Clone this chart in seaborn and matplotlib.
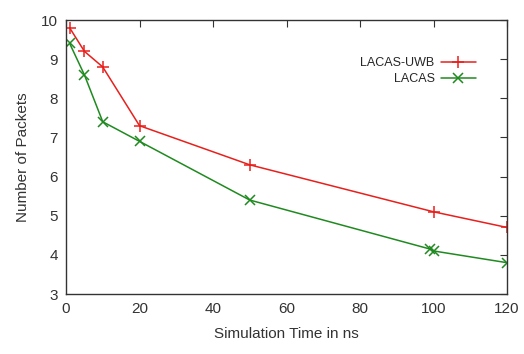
import matplotlib
matplotlib.use("Agg")
import matplotlib.pyplot as plt
import seaborn as sns
import pandas as pd

uwb_x = [1, 5, 10, 20, 50, 100, 120]
uwb_y = [9.8, 9.2, 8.8, 7.3, 6.3, 5.1, 4.7]
lacas_x = [1, 5, 10, 20, 50, 99, 100, 120]
lacas_y = [9.4, 8.6, 7.4, 6.9, 5.4, 4.15, 4.1, 3.8]
x_ticks = [0, 20, 40, 60, 80, 100, 120]
y_ticks = [3, 4, 5, 6, 7, 8, 9, 10]

sns.set_theme(style="white")
plt.rcParams['font.family'] = ['Liberation Sans', 'DejaVu Sans']

fig = plt.figure(figsize=(5.24, 3.54), dpi=100)
ax = fig.add_axes([66/524, 1 - 294/354, (507-66)/524, (294-20)/354])

red = "#e8201c"
green = "#1f8a1f"
df1 = pd.DataFrame({"x": uwb_x, "y": uwb_y})
df2 = pd.DataFrame({"x": lacas_x, "y": lacas_y})
sns.lineplot(data=df1, x="x", y="y", ax=ax, color=red, marker="+",
             markersize=8, markeredgewidth=1.1, markeredgecolor=red,
             linewidth=1.1, label="LACAS-UWB")
sns.lineplot(data=df2, x="x", y="y", ax=ax, color=green, marker="x",
             markersize=6.5, markeredgewidth=1.1, markeredgecolor=green,
             linewidth=1.1, label="LACAS")

ax.set_xlim(0, 120)
ax.set_ylim(3, 10)
ax.set_xticks(x_ticks)
ax.set_yticks(y_ticks)
ax.tick_params(direction="in", length=5, width=0.8, top=True, right=True,
               labelsize=11, colors="#333333", pad=6)
for s in ax.spines.values():
    s.set_color("#333333")
    s.set_linewidth(1.0)
ax.set_xlabel("Simulation Time in ns", fontsize=11, color="#333333", labelpad=8)
ax.set_ylabel("Number of Packets", fontsize=11, color="#333333", labelpad=8)
ax.legend(loc="upper right", bbox_to_anchor=(0.955, 0.905), frameon=False,
          markerfirst=False, fontsize=9, handlelength=2.8, labelspacing=0.3,
          handletextpad=0.5)

fig.savefig("out.png", dpi=100)
